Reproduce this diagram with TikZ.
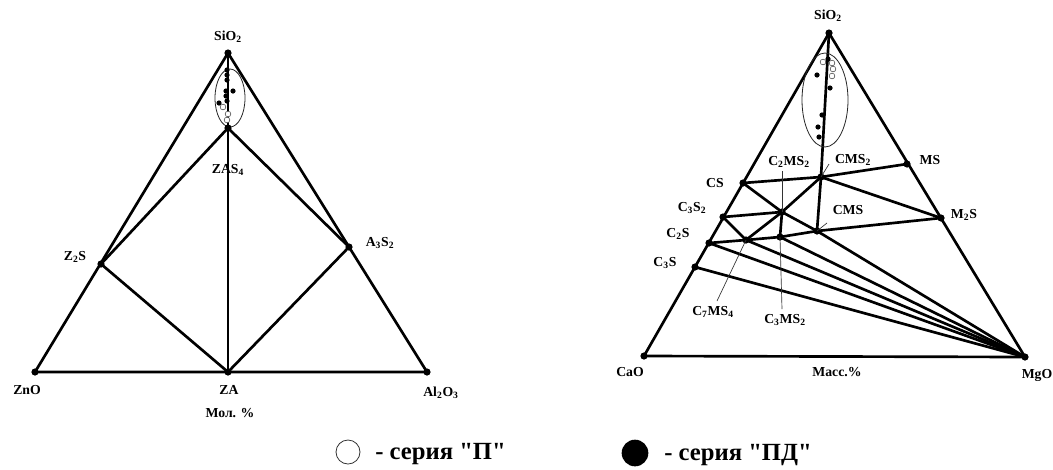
\documentclass[tikz,border=0pt]{standalone}
\usepackage{fontspec}
\setmainfont{Liberation Serif}
\newfontfamily\legfont[Ligatures=TeXOff]{Liberation Serif}
\newcommand{\sbs}[1]{\textsubscript{#1}}
\begin{document}
\begin{tikzpicture}[x=0.75pt,y=-0.75pt,
  edge/.style={line width=2pt, line cap=round, line join=round},
  leader/.style={line width=0.5pt, black!80},
  ell/.style={line width=0.6pt, black!85},
  vdot/.style={circle, fill=black, inner sep=0pt, minimum size=5.4pt},
  fdot/.style={circle, fill=black, inner sep=0pt, minimum size=3.9pt},
  odot/.style={circle, draw=black!75, line width=0.4pt, fill=white, inner sep=0pt, minimum size=4.3pt},
  lab/.style={font=\bfseries\fontsize{10.3}{11}\selectfont, inner sep=1pt},
  leg/.style={font=\legfont\bfseries\fontsize{18.5}{20}\selectfont, inner sep=0pt, anchor=west}]
\path[fill=white] (0,0) rectangle (1053,469);
\useasboundingbox (0,0) rectangle (1053,469);

% ---------------- left diagram ----------------
\coordinate (LS) at (228,53);
\coordinate (LZnO) at (35,372);
\coordinate (LAl) at (427,372);
\coordinate (LZA) at (228,372);
\coordinate (LZAS) at (228,128);
\coordinate (LZS) at (101,264);
\coordinate (LAS) at (349,247);

\draw[edge] (LZnO) -- (LS) -- (LAl) -- cycle;
\draw[edge] (LS) -- (LZA);
\draw[edge] (LZS) -- (LZAS) -- (LAS);
\draw[edge] (LZS) -- (LZA) -- (LAS);
\draw[ell] (230,98) ellipse [x radius=15, y radius=29];

\foreach \p in {LS,LZnO,LAl,LZA,LZAS,LZS,LAS} \node[vdot] at (\p) {};
\foreach \x/\y [count=\i] in {227/70,227/75,227/80,226/91,233/91,226/96,227/101,219/103}
  \node[fdot] (lf\i) at (\x,\y) {};
\foreach \x/\y [count=\i] in {223/107,228/114,227/120}
  \node[odot] (lo\i) at (\x,\y) {};

\node[lab] (tLS) at (228,37) {SiO\sbs{2}};
\node[lab] (tLZAS) at (228,170) {ZAS\sbs{4}};
\node[lab] (tLZS) at (75,257) {Z\sbs{2}S};
\node[lab] (tLAS) at (380,243) {A\sbs{3}S\sbs{2}};
\node[lab] (tLZnO) at (27,390) {ZnO};
\node[lab] (tLZA) at (229,390) {ZA};
\node[lab] (tLAl) at (441,393) {Al\sbs{2}O\sbs{3}};
\node[lab] (tLmol) at (230,413) {Мол. \%};

% ---------------- right diagram ----------------
\coordinate (RS) at (829,33);
\coordinate (RCaO) at (644,356);
\coordinate (RMgO) at (1025,357);
\coordinate (CS) at (743,183);
\coordinate (C3S2) at (723,217);
\coordinate (C2S) at (709,243);
\coordinate (C3S) at (695,267);
\coordinate (C2MS2) at (782,212);
\coordinate (C7MS4) at (746,240);
\coordinate (C3MS2) at (780,237);
\coordinate (CMS) at (817,231);
\coordinate (CMS2) at (821,177);
\coordinate (MS) at (907,164);
\coordinate (M2S) at (941,218);

\draw[edge] (RCaO) -- (RS) -- (RMgO) -- cycle;
\draw[edge] (RS) -- (CMS2) -- (CMS);
\draw[edge] (CS) -- (CMS2) -- (MS);
\draw[edge] (CMS2) -- (M2S);
\draw[edge] (C2S) -- (C7MS4) -- (C3MS2) -- (CMS) -- (M2S);
\draw[edge] (CS) -- (C2MS2);
\draw[edge] (C3S2) -- (C2MS2);
\draw[edge] (C3S2) -- (C7MS4) -- (C2MS2);
\draw[edge] (C2MS2) -- (C3MS2);
\draw[edge] (C2MS2) -- (CMS2);
\draw[edge] (C2MS2) -- (CMS);
\foreach \p in {C3S,C2S,C7MS4,C3MS2,CMS} \draw[edge] (\p) -- (RMgO);
\draw[ell] (825,100) ellipse [x radius=23, y radius=47];

\foreach \p in {RS,RCaO,RMgO,CS,C3S2,C2S,C3S,C2MS2,C7MS4,C3MS2,CMS,CMS2,MS,M2S}
  \node[vdot] at (\p) {};
\foreach \x/\y [count=\i] in {823/62,832/63,833/69,832/76}
  \node[odot] (ro\i) at (\x,\y) {};
\foreach \x/\y [count=\i] in {828/59,817/75,830/88,822/115,818/127,819/137}
  \node[fdot] (rf\i) at (\x,\y) {};

% leaders
\coordinate (lC2MS2) at (782,171);
\coordinate (lC3MS2) at (782,309);
\coordinate (lC7MS4) at (717,301);
\coordinate (lCMS2) at (829,164);
\coordinate (lCMS) at (827,223);
\draw[leader] (lC2MS2) -- (C2MS2);
\draw[leader] (C3MS2) -- (lC3MS2);
\draw[leader] (C7MS4) -- (lC7MS4);
\draw[leader] (lCMS2) -- (CMS2);
\draw[leader] (lCMS) -- (CMS);

\node[lab] (tRS) at (828,16) {SiO\sbs{2}};
\node[lab] (tCS) at (715,183) {CS};
\node[lab] (tC3S2) at (692,208) {C\sbs{3}S\sbs{2}};
\node[lab] (tC2S) at (678,234) {C\sbs{2}S};
\node[lab] (tC3S) at (665,263) {C\sbs{3}S};
\node[lab] (tC2MS2) at (789,162) {C\sbs{2}MS\sbs{2}};
\node[lab] (tCMS2) at (853,160) {CMS\sbs{2}};
\node[lab] (tMS) at (930,160) {MS};
\node[lab] (tCMS) at (848,210) {CMS};
\node[lab] (tM2S) at (964,215) {M\sbs{2}S};
\node[lab] (tC7MS4) at (713,312) {C\sbs{7}MS\sbs{4}};
\node[lab] (tC3MS2) at (785,320) {C\sbs{3}MS\sbs{2}};
\node[lab] (tRCaO) at (630,372) {CaO};
\node[lab] (tRmass) at (837,372) {Масс.\%};
\node[lab] (tRMgO) at (1037,375) {MgO};

% ---------------- legend ----------------
\node[circle, draw=black!80, line width=0.6pt, minimum size=18pt, inner sep=0pt] (legO) at (348,452) {};
\node[circle, fill=black, minimum size=20pt, inner sep=0pt] (legF) at (635,453) {};
\node[leg] (legOt) at (375,454) {- серия "П"};
\node[leg] (legFt) at (664,455) {- серия "ПД"};
\end{tikzpicture}
\end{document}
